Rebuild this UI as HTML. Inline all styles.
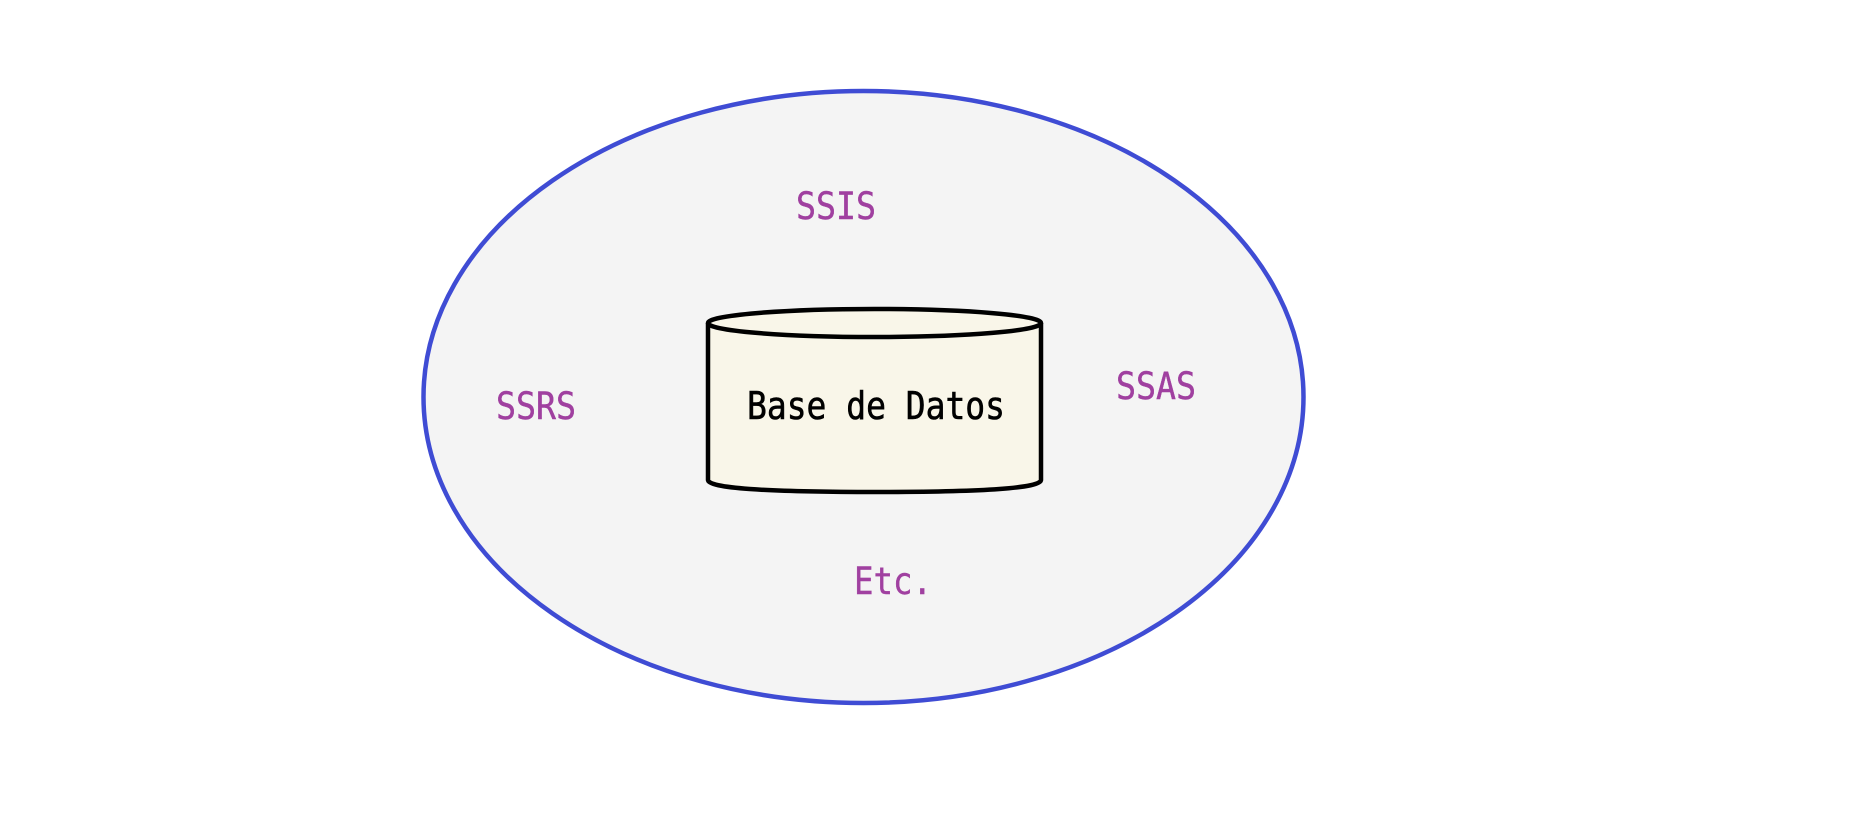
<!DOCTYPE html>
<html><head><meta charset="utf-8"><style>
html,body{margin:0;padding:0;background:#fff;width:1856px;height:822px;overflow:hidden}
text{font-family:"DejaVu Sans Mono","Liberation Mono",monospace}
</style></head><body>
<svg width="1856" height="822" viewBox="0 0 1856 822" xmlns="http://www.w3.org/2000/svg">
<ellipse cx="863.5" cy="397" rx="440" ry="306" fill="#f4f4f4" stroke="#3f4cd4" stroke-width="4.5"/>
<path d="M708,323 L708,480 Q708,492 875,492 Q1041,492 1041,480 L1041,323" fill="#f9f6e9" stroke="#000" stroke-width="4.5"/>
<ellipse cx="874.5" cy="323" rx="166.5" ry="14" fill="#f9f6e9" stroke="#000" stroke-width="4.5"/>
<text x="876" y="419" font-size="38" text-anchor="middle" fill="#000" stroke="#000" stroke-width="0.6" textLength="258" lengthAdjust="spacingAndGlyphs">Base de Datos</text>
<g fill="#a040a0" stroke="#a040a0" stroke-width="0.4" font-size="37" text-anchor="middle">
<text x="836" y="219" textLength="80" lengthAdjust="spacingAndGlyphs">SSIS</text>
<text x="536" y="419" textLength="80" lengthAdjust="spacingAndGlyphs">SSRS</text>
<text x="1156" y="399" textLength="80" lengthAdjust="spacingAndGlyphs">SSAS</text>
<text x="893" y="594" textLength="78" lengthAdjust="spacingAndGlyphs">Etc.</text>
</g>
</svg>
</body></html>
